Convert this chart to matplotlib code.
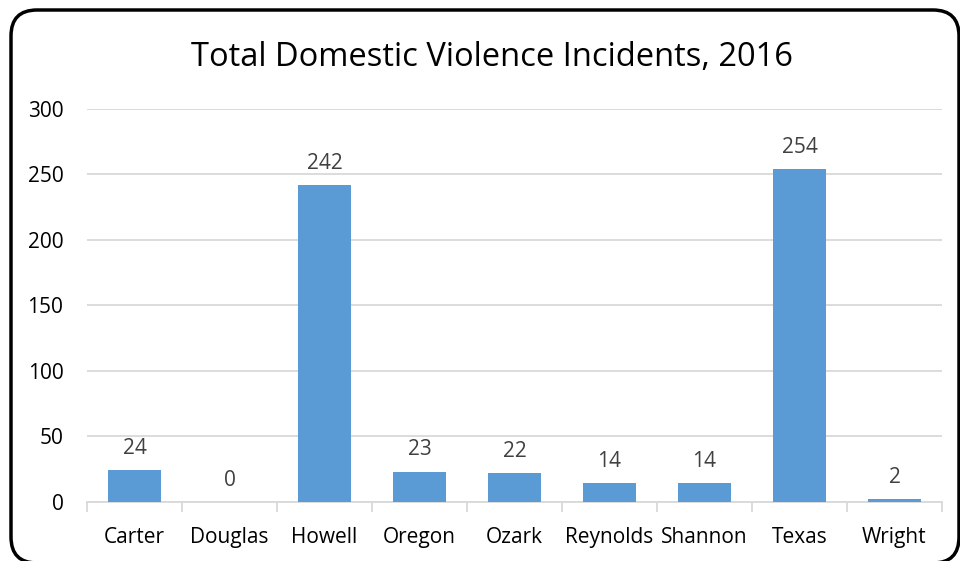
import matplotlib
matplotlib.use("Agg")
import matplotlib.pyplot as plt
from matplotlib.patches import FancyBboxPatch
import numpy as np

categories = ["Carter", "Douglas", "Howell", "Oregon", "Ozark", "Reynolds", "Shannon", "Texas", "Wright"]
values = [24, 0, 242, 23, 22, 14, 14, 254, 2]
yticks = [0, 50, 100, 150, 200, 250, 300]
title = "Total Domestic Violence Incidents, 2016"

plt.rcParams['font.family'] = ['Open Sans', 'DejaVu Sans']

W, H = 960, 561
fig = plt.figure(figsize=(W / 100, H / 100), dpi=100)
ax = fig.add_axes([87 / W, (H - 501.7) / H, (942 - 87) / W, (501.7 - 109) / H])

x = np.arange(len(categories))
ax.bar(x, values, width=0.55, color="#5B9BD5", zorder=3)
for xi, v in zip(x, values):
    ax.annotate(str(v), (xi, v), xytext=(0, 8), textcoords="offset points",
                ha="center", va="bottom", fontsize=15, color="#404040")

ax.set_xlim(-0.5, len(categories) - 0.5)
ax.set_ylim(0, 300)
ax.set_yticks(yticks)
ax.set_yticklabels([str(t) for t in yticks])
ax.set_xticks(x)
ax.set_xticklabels(categories)
ax.set_xticks(np.arange(-0.5, len(categories), 1), minor=True)

ax.grid(axis="y", color="#D9D9D9", linewidth=1.3, zorder=0)
for s in ["top", "right", "left"]:
    ax.spines[s].set_visible(False)
ax.spines["bottom"].set_color("#D9D9D9")
ax.spines["bottom"].set_linewidth(1.3)

ax.tick_params(axis="y", length=0, pad=17, labelsize=15, labelcolor="#000000")
ax.tick_params(axis="x", which="major", length=0, pad=18, labelsize=15, labelcolor="#000000")
ax.tick_params(axis="x", which="minor", length=7, width=1.3, color="#D9D9D9")

fig.text(492 / W, (H - 57) / H, title, ha="center", va="center", fontsize=23.5, color="#000000")

border = FancyBboxPatch((11, -2), 948, 553, boxstyle="round,pad=0,rounding_size=26",
                        transform=None, facecolor="none", edgecolor="black", linewidth=2.5)
fig.patches.append(border)

fig.savefig("out.png", dpi=100)
